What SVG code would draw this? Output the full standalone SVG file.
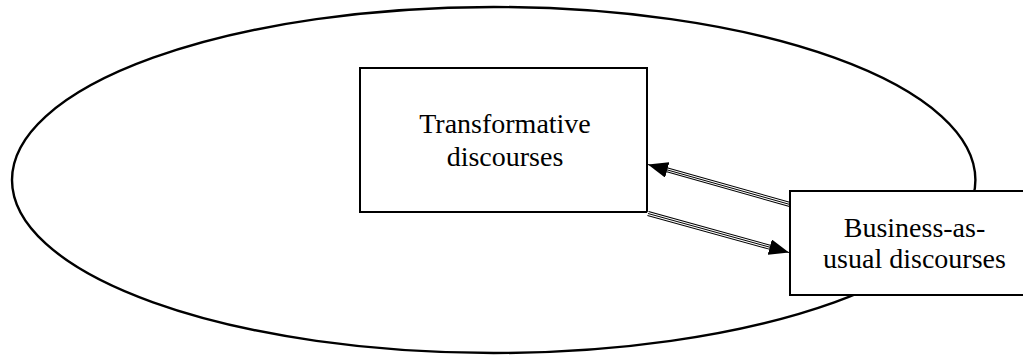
<svg xmlns="http://www.w3.org/2000/svg" width="1023" height="356" viewBox="0 0 1023 356">
<style>
.outline{fill:none;stroke:#000;stroke-width:2.4}
.box{fill:#fff;stroke:#000;stroke-width:2}
.lbl{font-family:'Liberation Serif','Times New Roman',Times,serif;font-size:28px;fill:#000;text-anchor:middle}
.l1{stroke:#000;stroke-width:5;fill:none}
.l2{stroke:#fff;stroke-width:3;fill:none}
.l3{stroke:#000;stroke-width:1;fill:none}
</style>
<defs>
<marker id="ah" markerUnits="userSpaceOnUse" markerWidth="20" markerHeight="16" refX="20" refY="8" orient="auto" viewBox="0 0 20 16">
<path d="M0,0 L20,8 L0,16 z" fill="#000"/>
</marker>
</defs>
<rect width="1023" height="356" fill="#fff"/>
<g id="context">
<ellipse class="outline" cx="493.7" cy="180" rx="481.7" ry="173"/>
</g>
<g id="transformative">
<rect class="box" x="360" y="68" width="287" height="144"/>
<text class="lbl" font-family="Liberation Serif, serif" x="505" y="133">Transformative</text>
<text class="lbl" font-family="Liberation Serif, serif" x="505" y="166">discourses</text>
</g>
<g id="connectors">
<line class="l1" x1="790" y1="204.5" x2="667.3" y2="169.9"/>
<line class="l2" x1="791" y1="204.8" x2="667.3" y2="169.9"/>
<line class="l3" x1="790" y1="204.5" x2="648" y2="164.5" marker-end="url(#ah)"/>
<line class="l1" x1="648" y1="213.5" x2="769.7" y2="247.2"/>
<line class="l2" x1="647" y1="213.2" x2="769.7" y2="247.2"/>
<line class="l3" x1="648" y1="213.5" x2="789" y2="252.5" marker-end="url(#ah)"/>
</g>
<g id="business">
<rect class="box" x="790" y="191" width="260" height="104"/>
<text class="lbl" font-family="Liberation Serif, serif" x="914.5" y="237">Business-as-</text>
<text class="lbl" font-family="Liberation Serif, serif" x="914.5" y="268">usual discourses</text>
</g>
</svg>
